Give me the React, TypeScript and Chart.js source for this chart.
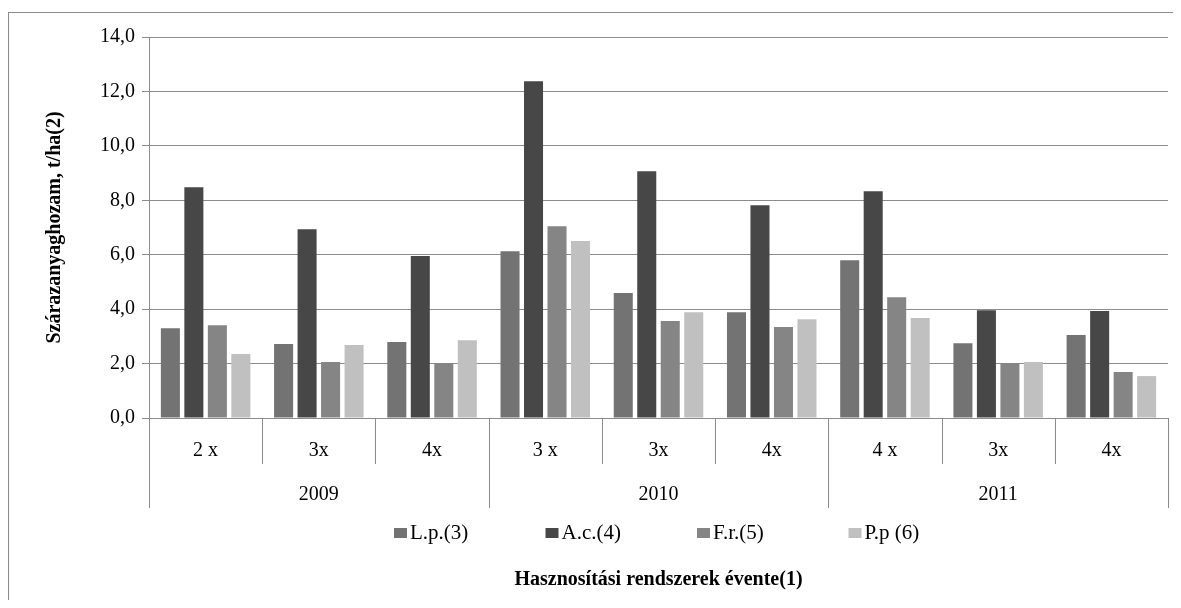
import React, { useEffect, useRef } from 'react';
import { Chart, registerables } from 'chart.js';

Chart.register(...registerables);

const categories = ['2 x', '3x', '4x', '3 x', '3x', '4x', '4 x', '3x', '4x'];
const years = ['2009', '2010', '2011'];
const groupSize = 3;

const seriesNames = ['L.p.(3)', 'A.c.(4)', 'F.r.(5)', 'P.p (6)'];
const lpValues = [3.30, 2.72, 2.79, 6.13, 4.59, 3.89, 5.80, 2.75, 3.05];
const acValues = [8.48, 6.94, 5.95, 12.37, 9.07, 7.82, 8.33, 3.96, 3.93];
const frValues = [3.41, 2.06, 2.02, 7.05, 3.56, 3.34, 4.44, 2.02, 1.69];
const ppValues = [2.35, 2.68, 2.86, 6.50, 3.89, 3.63, 3.67, 2.06, 1.54];
const seriesColors = ['#737373', '#474747', '#858585', '#c0c0c0'];

const yTitle = 'Szárazanyaghozam, t/ha(2)';
const xTitle = 'Hasznosítási rendszerek évente(1)';

const FONT = "'Liberation Serif', 'Times New Roman', serif";
const LINE = '#8c8c8c';

export default function App() {
  const ref = useRef<HTMLCanvasElement>(null);

  useEffect(() => {
    if (!ref.current) return;
    const labels = categories.map((c, i) => [
      c,
      i % groupSize === Math.floor(groupSize / 2) ? years[Math.floor(i / groupSize)] : '',
    ]);

    const decorPlugin = {
      id: 'decor',
      afterDraw(chart: any) {
        const { ctx, chartArea, width, height } = chart;
        const xs = chart.scales.x;
        ctx.save();
        // outer frame
        ctx.strokeStyle = LINE;
        ctx.lineWidth = 1;
        ctx.strokeRect(0.5, 4.5, width + 10, height + 10);
        // category dividers
        const y0 = chartArea.bottom;
        for (let i = 0; i <= categories.length; i++) {
          const px = Math.round(xs.getPixelForValue(i - 0.5)) + 0.5;
          const isGroup = i % groupSize === 0;
          ctx.beginPath();
          ctx.moveTo(px, y0);
          ctx.lineTo(px, y0 + (isGroup ? 90 : 46));
          ctx.stroke();
        }
        // legend
        const center = (chartArea.left + chartArea.right) / 2;
        const pitch = 151.5;
        const ly = chartArea.bottom + 115;
        ctx.font = `21px ${FONT}`;
        ctx.textBaseline = 'middle';
        ctx.textAlign = 'left';
        chart.data.datasets.forEach((ds: any, i: number) => {
          const bx = center + (i - 2) * pitch + 38.5;
          ctx.fillStyle = ds.backgroundColor;
          ctx.fillRect(bx, ly - 5, 13, 10);
          ctx.fillStyle = '#000';
          ctx.fillText(ds.label, bx + 16, ly);
        });
        ctx.restore();
      },
    };

    const chart = new Chart(ref.current, {
      type: 'bar',
      data: {
        labels,
        datasets: [lpValues, acValues, frValues, ppValues].map((vals, i) => ({
          label: seriesNames[i],
          data: vals,
          backgroundColor: seriesColors[i],
          borderWidth: 0,
          categoryPercentage: 0.83,
          barPercentage: 0.81,
        })),
      },
      options: {
        responsive: false,
        animation: false,
        layout: { padding: { top: 29, right: 13, left: 0, bottom: 0 } },
        plugins: {
          legend: { display: false },
          tooltip: { enabled: false },
          title: { display: false },
        },
        scales: {
          x: {
            type: 'category',
            offset: true,
            grid: { display: false, drawTicks: false },
            border: { display: true, color: LINE },
            ticks: {
              autoSkip: false,
              maxRotation: 0,
              minRotation: 0,
              padding: 11,
              color: '#000',
              font: { family: FONT, size: 20, lineHeight: 2.2 },
            },
            title: {
              display: true,
              text: xTitle,
              color: '#000',
              font: { family: FONT, size: 20, weight: 'bold' },
              padding: { top: 0, bottom: 8 },
            },
            afterFit(scale: any) {
              scale.height = 182;
            },
          },
          y: {
            min: 0,
            max: 14,
            grid: { color: LINE, tickLength: 7, drawTicks: true },
            border: { display: true, color: LINE },
            ticks: {
              stepSize: 2,
              padding: 7,
              color: '#000',
              font: { family: FONT, size: 20 },
              callback: (v: any) => Number(v).toFixed(1).replace('.', ','),
            },
            title: {
              display: true,
              text: yTitle,
              color: '#000',
              font: { family: FONT, size: 20, weight: 'bold' },
              padding: { top: 35, bottom: 0 },
            },
            afterFit(scale: any) {
              scale.width = 141;
            },
          },
        },
      },
      plugins: [decorPlugin],
    } as any);

    return () => chart.destroy();
  }, []);

  return (
    <canvas
      ref={ref}
      width={1173}
      height={592}
      style={{ display: 'block', width: 1173, height: 592 }}
    />
  );
}
